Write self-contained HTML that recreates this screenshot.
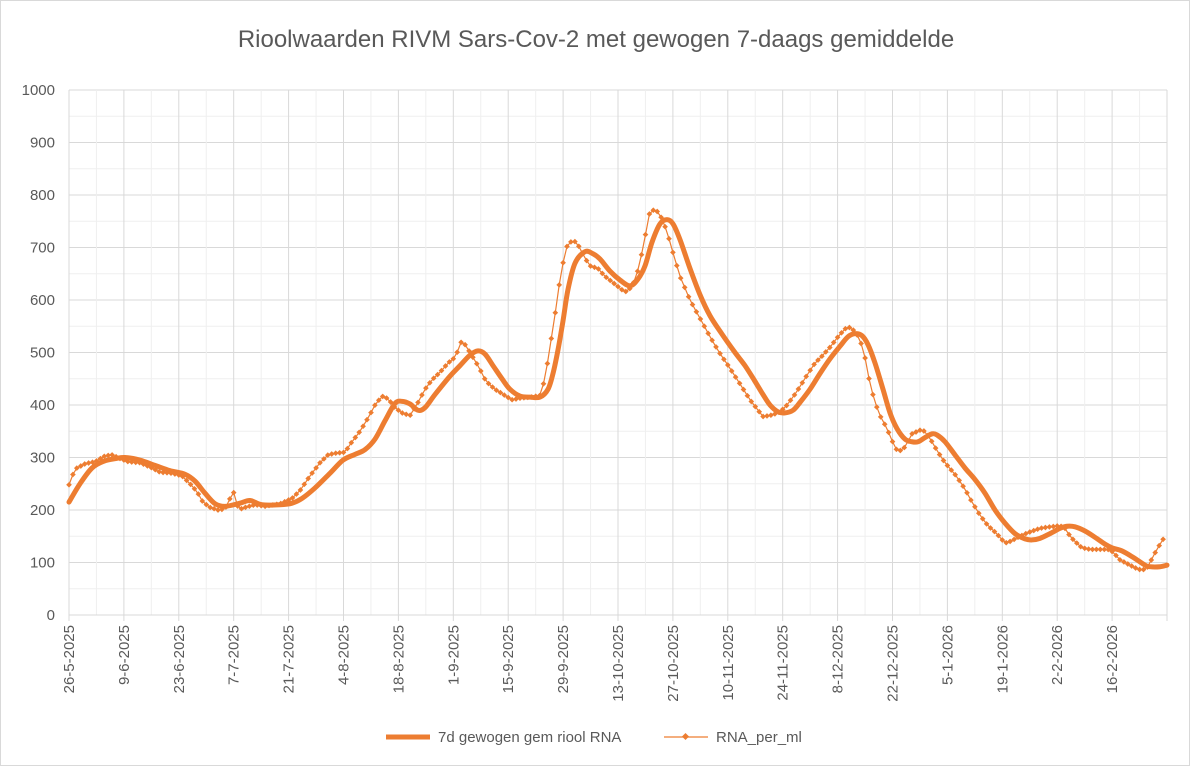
<!DOCTYPE html>
<html><head><meta charset="utf-8"><style>
body{margin:0;background:#fff}
svg text{font-family:"Liberation Sans",sans-serif;fill:#595959}
</style></head><body>
<svg id="s" width="1191" height="767" xmlns="http://www.w3.org/2000/svg">
<rect x="0.5" y="0.5" width="1189" height="765" fill="#fff" stroke="#d9d9d9"/>
<text x="596" y="47" font-size="24" text-anchor="middle">Rioolwaarden RIVM Sars-Cov-2 met gewogen 7-daags gemiddelde</text>
<g id="grid"></g>
<g id="lab" font-size="15"></g>
<path id="thin" fill="none" stroke="#ed7d31" stroke-width="1.2"/>
<g id="mk" fill="#ed7d31"></g>
<path id="thick" fill="none" stroke="#ed7d31" stroke-width="5" stroke-linejoin="round" stroke-linecap="round"/>
<line x1="386" y1="737" x2="430" y2="737" stroke="#ed7d31" stroke-width="5"/>
<text x="438" y="742" font-size="15">7d gewogen gem riool RNA</text>
<line x1="664" y1="737" x2="708" y2="737" stroke="#ed7d31" stroke-width="1.2"/>
<rect x="683" y="734" width="5" height="5" fill="#ed7d31" transform="rotate(45 685.5 736.5)"/>
<text x="716" y="742" font-size="15">RNA_per_ml</text>
</svg>
<script>
var X0=69,X1=1167,Y0=615,k=0.525,pd=(X1-X0)/280;
var g='',l='';
for(var v=50;v<=1000;v+=50){var y=Y0-v*k;g+='<line x1="'+X0+'" x2="'+X1+'" y1="'+y+'" y2="'+y+'" stroke="'+(v%100?'#efefef':'#d9d9d9')+'" stroke-width="1"/>';}
for(var d=7;d<=280;d+=7){var x=X0+d*pd;g+='<line x1="'+x+'" x2="'+x+'" y1="'+(Y0-1000*k)+'" y2="'+(d%14?Y0:Y0+6)+'" stroke="'+(d%14?'#efefef':'#d9d9d9')+'" stroke-width="1"/>';}
g+='<line x1="'+X0+'" x2="'+X0+'" y1="'+(Y0-1000*k)+'" y2="'+(Y0+6)+'" stroke="#d9d9d9"/>';
g+='<line x1="'+X0+'" x2="'+X1+'" y1="'+Y0+'" y2="'+Y0+'" stroke="#d9d9d9"/>';
for(var v=0;v<=1000;v+=100){l+='<text x="55" y="'+(Y0-v*k+5)+'" text-anchor="end">'+v+'</text>';}
var start=new Date(2025,4,26);
for(var d=0;d<280;d+=14){var dt=new Date(start.getTime()+d*864e5+36e5*3);var s=dt.getDate()+'-'+(dt.getMonth()+1)+'-'+dt.getFullYear();var x=X0+d*pd+5;l+='<text transform="translate('+x+',625) rotate(-90)" text-anchor="end">'+s+'</text>';}
document.getElementById('grid').innerHTML=g;document.getElementById('lab').innerHTML=l;
function P(a){var r=[];for(var i=0;i<a.length;i+=2)r.push([a[i],Y0-a[i+1]*k]);return r;}
var A=P([69,215,80,250,92,280,104,293,116,298,125,300,140,295,155,285,170,275,185,268,195,255,205,232,215,212,225,207,240,213,250,218,262,210,280,210,292,213,302,222,315,242,330,270,343,295,355,306,365,315,375,335,385,370,395,403,402,407,410,402,418,390,425,395,435,420,450,455,460,475,470,495,478,503,485,497,493,475,502,450,510,430,520,417,530,415,540,415,548,430,553,460,558,505,563,560,568,620,575,670,585,692,593,688,600,678,610,655,620,638,630,627,638,640,645,665,652,710,660,745,667,753,673,745,680,715,690,660,700,610,710,570,722,535,735,500,745,475,755,445,763,420,770,400,778,387,785,385,793,390,800,405,810,430,820,460,830,488,840,512,848,530,855,536,862,532,868,515,875,480,883,430,890,385,897,355,905,335,912,330,918,330,925,338,932,345,937,343,945,330,955,305,965,280,975,258,985,232,995,200,1005,175,1015,155,1025,145,1032,143,1040,146,1050,155,1060,165,1067,169,1075,168,1085,160,1095,148,1105,135,1112,128,1122,122,1133,110,1145,95,1150,92,1160,92,1167,95]);
var B=P([69,248,75,278,85,288,95,292,105,303,112,305,120,298,128,292,140,290,150,282,160,272,172,270,182,265,190,250,197,235,203,215,210,205,218,200,225,202,230,222,236,240,238,200,245,205,255,210,265,207,280,212,292,222,300,237,310,265,320,290,328,305,335,308,345,310,352,330,360,350,368,375,375,400,382,417,388,412,395,395,402,385,410,380,418,405,425,430,432,448,440,462,448,480,456,492,460,520,464,518,470,500,478,475,486,445,495,430,505,418,512,410,520,413,530,415,540,418,545,450,550,510,556,585,560,640,566,700,573,715,578,705,585,680,590,665,598,660,605,645,615,630,625,615,632,625,637,650,642,690,647,740,650,770,656,772,662,755,667,730,673,690,680,645,690,600,700,565,710,530,720,498,730,470,740,440,750,410,758,390,763,378,770,380,778,385,785,395,793,415,800,435,808,460,815,480,823,495,830,510,838,530,845,545,850,548,855,540,860,525,865,490,870,440,875,405,880,380,887,355,893,328,898,310,905,320,912,345,920,352,925,350,932,330,938,310,945,290,955,268,965,240,972,215,980,190,988,170,995,158,1000,148,1005,137,1010,140,1018,148,1028,157,1040,165,1050,168,1060,170,1065,165,1070,150,1075,140,1082,128,1090,125,1100,125,1108,125,1113,120,1120,105,1128,97,1135,90,1142,85,1147,90,1150,100,1155,118,1160,135,1165,150]);
function cr(p){var d='M'+p[0][0]+','+p[0][1];for(var i=0;i<p.length-1;i++){var p0=p[i-1]||p[i],p1=p[i],p2=p[i+1],p3=p[i+2]||p2;d+='C'+(p1[0]+(p2[0]-p0[0])/6)+','+(p1[1]+(p2[1]-p0[1])/6)+' '+(p2[0]-(p3[0]-p1[0])/6)+','+(p2[1]-(p3[1]-p1[1])/6)+' '+p2[0]+','+p2[1];}return d;}
document.getElementById('thick').setAttribute('d',cr(A));
function interp(p,x){for(var i=0;i<p.length-1;i++){if(x<=p[i+1][0]){var t=(x-p[i][0])/(p[i+1][0]-p[i][0]);return p[i][1]+t*(p[i+1][1]-p[i][1]);}}return p[p.length-1][1];}
var pts=[],m='';
for(var x=X0;x<=1166;x+=pd){var y=interp(B,x);pts.push(x.toFixed(1)+','+y.toFixed(1));m+='<rect x="'+(x-2).toFixed(1)+'" y="'+(y-2).toFixed(1)+'" width="4" height="4" transform="rotate(45 '+x.toFixed(1)+' '+y.toFixed(1)+')"/>';}
document.getElementById('thin').setAttribute('d','M'+pts.join('L'));
document.getElementById('mk').innerHTML=m;
</script>
</body></html>
